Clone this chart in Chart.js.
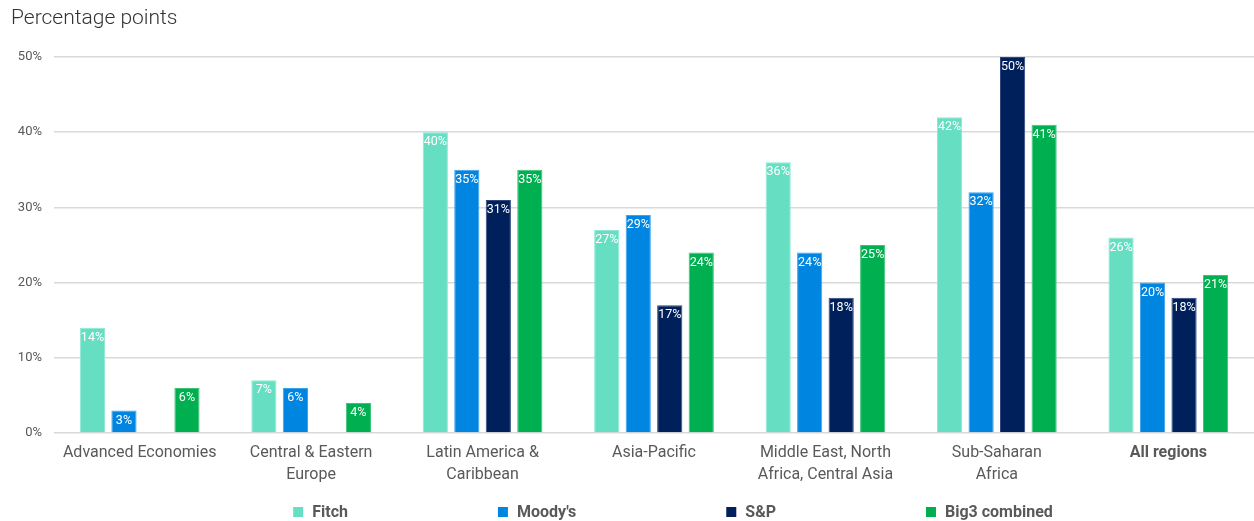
<!DOCTYPE html>
<html>
<head>
<meta charset="utf-8">
<script src="https://cdn.jsdelivr.net/npm/chart.js@4.4.1/dist/chart.umd.min.js"></script>
<style>
html,body{margin:0;padding:0;background:#fff;}
#wrap{width:1254px;height:521px;position:relative;}
</style>
</head>
<body>
<div id="wrap"><canvas id="c"></canvas></div>
<script>
const categories = [
  "Advanced Economies",
  ["Central & Eastern", "Europe"],
  ["Latin America &", "Caribbean"],
  "Asia-Pacific",
  ["Middle East, North", "Africa, Central Asia"],
  ["Sub-Saharan", "Africa"],
  "All regions"
];
const seriesNames = ["Fitch", "Moody's", "S&P", "Big3 combined"];
const fitch = [14, 7, 40, 27, 36, 42, 26];
const moodys = [3, 6, 35, 29, 24, 32, 20];
const sp = [null, null, 31, 17, 18, 50, 18];
const big3 = [6, 4, 35, 24, 25, 41, 21];
const yTicks = [0, 10, 20, 30, 40, 50];
const titleText = "Percentage points";

const colors = ["#66DEC2", "#0086E0", "#00205B", "#00B050"];
const borders = ["#8FE8D3", "#3FA3EA", "#30477D", "#3CC476"];
const FONT = "Roboto, 'Noto Sans', sans-serif";

const labelPlugin = {
  id: 'barLabels',
  afterDatasetsDraw(chart) {
    const ctx = chart.ctx;
    ctx.save();
    ctx.font = "12.5px " + FONT;
    ctx.fillStyle = "#ffffff";
    ctx.textAlign = "center";
    ctx.textBaseline = "middle";
    chart.data.datasets.forEach((ds, i) => {
      const meta = chart.getDatasetMeta(i);
      meta.data.forEach((bar, j) => {
        const v = ds.data[j];
        if (v === null || v === undefined) return;
        ctx.fillText(v + "%", bar.x, bar.y + 10);
      });
    });
    ctx.restore();
  }
};

const titleLegendPlugin = {
  id: 'titleLegend',
  afterDraw(chart) {
    const ctx = chart.ctx;
    ctx.save();
    ctx.font = "300 21px " + FONT;
    ctx.fillStyle = "#333333";
    ctx.textAlign = "left";
    ctx.textBaseline = "middle";
    ctx.fillText(titleText, 11, 19);
    ctx.font = "bold 16px " + FONT;
    const box = 10, gapText = 9, gapItem = 150;
    const widths = seriesNames.map(n => box + gapText + ctx.measureText(n).width);
    const total = widths.reduce((a, b) => a + b, 0) + gapItem * (seriesNames.length - 1);
    const ca = chart.chartArea;
    let x = (ca.left + ca.right) / 2 + 19 - total / 2;
    const y = 512;
    seriesNames.forEach((n, i) => {
      ctx.fillStyle = colors[i];
      ctx.fillRect(x, y - box / 2, box, box);
      ctx.fillStyle = "#595959";
      ctx.fillText(n, x + box + gapText, y + 1);
      x += widths[i] + gapItem;
    });
    ctx.restore();
  }
};

new Chart(document.getElementById('c'), {
  type: 'bar',
  data: {
    labels: categories,
    datasets: [fitch, moodys, sp, big3].map((d, i) => ({
      label: seriesNames[i],
      data: d,
      backgroundColor: colors[i],
      borderColor: borders[i],
      borderWidth: 1,
      borderSkipped: 'bottom',
      categoryPercentage: 0.735,
      barPercentage: 0.8
    }))
  },
  options: {
    responsive: true,
    maintainAspectRatio: false,
    animation: false,
    layout: { padding: { top: 57, bottom: 26, left: 0, right: 0 } },
    plugins: {
      legend: { display: false },
      title: { display: false },
      tooltip: { enabled: false }
    },
    scales: {
      x: {
        grid: { display: false, drawTicks: false },
        border: { display: false },
        ticks: {
          color: "#595959",
          padding: 9,
          maxRotation: 0,
          autoSkip: false,
          font: (c) => ({ family: FONT, size: 16, lineHeight: 1.375, weight: c.index === 6 ? 'bold' : 'normal' })
        }
      },
      y: {
        min: 0,
        max: 50,
        afterFit(scale) { scale.width = 54; },
        afterBuildTicks(scale) { scale.ticks = yTicks.map(v => ({ value: v })); },
        grid: { color: "#D9D9D9", lineWidth: 1.5, drawTicks: false },
        border: { display: false },
        ticks: {
          color: "#595959",
          padding: 12,
          font: { family: FONT, size: 13 },
          callback: (v) => v + "%"
        }
      }
    }
  },
  plugins: [labelPlugin, titleLegendPlugin]
});
</script>
</body>
</html>
